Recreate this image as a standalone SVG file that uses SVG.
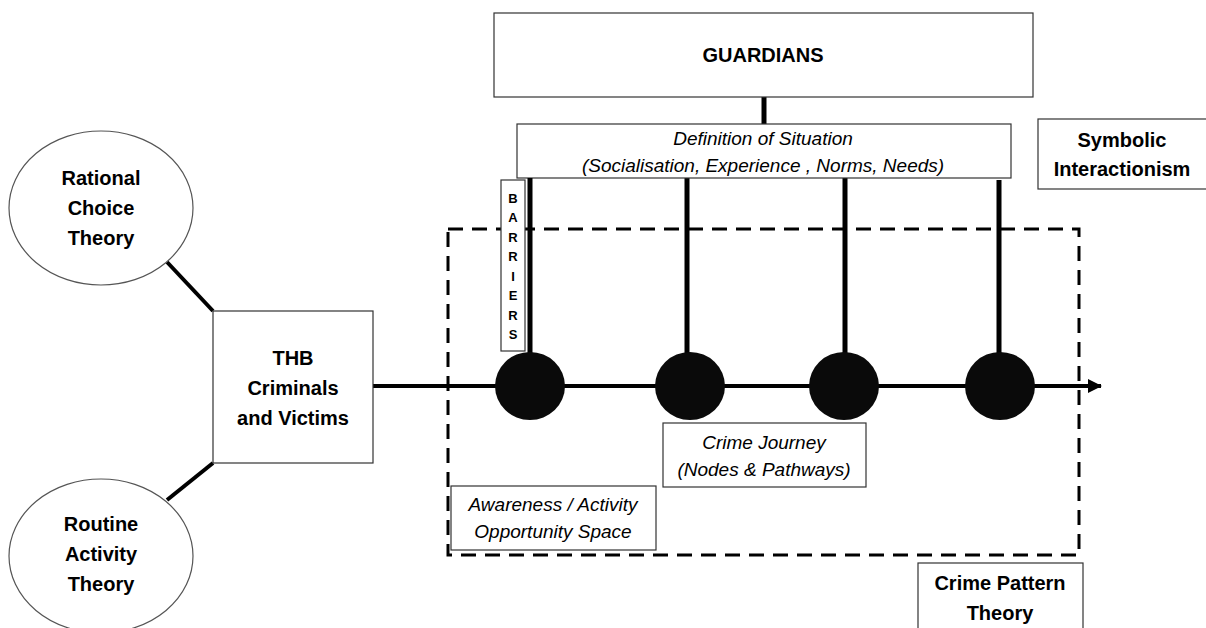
<svg xmlns="http://www.w3.org/2000/svg" width="1206" height="628" viewBox="0 0 1206 628">
<style>
.box{fill:#fff;stroke:#333;stroke-width:1.2}
.ell{fill:#fff;stroke:#555;stroke-width:1.2}
.b{font-family:"Liberation Sans",Arial,sans-serif;font-weight:bold;font-size:20px;fill:#000;text-anchor:middle}
.i{font-family:"Liberation Sans",Arial,sans-serif;font-style:italic;font-size:19px;fill:#000;text-anchor:middle}
.bar{font-family:"Liberation Sans",Arial,sans-serif;font-weight:bold;font-size:13px;fill:#000;text-anchor:middle}
.conn{stroke:#000;stroke-width:4;fill:none}
.vert{stroke:#000;stroke-width:5;fill:none}
.dot{fill:#0a0a0a}
</style>
<defs>
<marker id="arr" markerWidth="14" markerHeight="16" refX="13" refY="8" orient="auto" markerUnits="userSpaceOnUse">
<path d="M0,1 L14,8 L0,15 Z" fill="#000"/>
</marker>
</defs>
<rect width="1206" height="628" fill="#fff"/>
<g id="opportunity-space">
<rect x="448" y="229" width="631" height="326" fill="none" stroke="#000" stroke-width="3" stroke-dasharray="15,9"/>
</g>
<g id="connectors">
<line class="conn" x1="167" y1="262" x2="213" y2="311"/>
<line class="conn" x1="213" y1="463" x2="167" y2="500"/>
<line class="conn" x1="373" y1="386" x2="1101" y2="386" marker-end="url(#arr)"/>
<line class="vert" x1="764" y1="97" x2="764" y2="124"/>
<line class="vert" x1="687" y1="178" x2="687" y2="386"/>
<line class="vert" x1="845" y1="178" x2="845" y2="386"/>
<line class="vert" x1="999" y1="180" x2="999" y2="386"/>
</g>
<g id="rational-choice">
<ellipse class="ell" cx="101" cy="208" rx="92" ry="77"/>
<text class="b" x="101" y="185">Rational</text>
<text class="b" x="101" y="215">Choice</text>
<text class="b" x="101" y="245">Theory</text>
</g>
<g id="routine-activity">
<ellipse class="ell" cx="101" cy="556" rx="92" ry="77"/>
<text class="b" x="101" y="531">Routine</text>
<text class="b" x="101" y="561">Activity</text>
<text class="b" x="101" y="591">Theory</text>
</g>
<g id="thb">
<rect class="box" x="213" y="311" width="160" height="152"/>
<text class="b" x="293" y="365">THB</text>
<text class="b" x="293" y="395">Criminals</text>
<text class="b" x="293" y="425">and Victims</text>
</g>
<g id="guardians">
<rect class="box" x="494" y="13" width="539" height="84"/>
<text class="b" x="763" y="62">GUARDIANS</text>
</g>
<g id="definition">
<rect class="box" x="517" y="124" width="494" height="54"/>
<text class="i" x="763" y="145">Definition of Situation</text>
<text class="i" x="763" y="172">(Socialisation, Experience , Norms, Needs)</text>
</g>
<g id="symbolic">
<rect class="box" x="1038" y="119" width="170" height="70"/>
<text class="b" x="1122" y="147">Symbolic</text>
<text class="b" x="1122" y="176">Interactionism</text>
</g>
<g id="barriers">
<rect class="box" x="501" y="180" width="24" height="171"/>
<text class="bar" x="513" y="203">B</text>
<text class="bar" x="513" y="222">A</text>
<text class="bar" x="513" y="242">R</text>
<text class="bar" x="513" y="261">R</text>
<text class="bar" x="513" y="281">I</text>
<text class="bar" x="513" y="300">E</text>
<text class="bar" x="513" y="320">R</text>
<text class="bar" x="513" y="339">S</text>
</g>
<g id="barrier-line">
<line class="vert" x1="530" y1="178" x2="530" y2="386"/>
</g>
<g id="nodes">
<ellipse class="dot" cx="530" cy="386" rx="35" ry="34"/>
<ellipse class="dot" cx="690" cy="386" rx="35" ry="34"/>
<ellipse class="dot" cx="844" cy="386" rx="35" ry="34"/>
<ellipse class="dot" cx="1000" cy="386" rx="35" ry="34"/>
</g>
<g id="crime-journey">
<rect class="box" x="663" y="423" width="203" height="64"/>
<text class="i" x="764" y="449">Crime Journey</text>
<text class="i" x="764" y="476">(Nodes &amp; Pathways)</text>
</g>
<g id="awareness">
<rect class="box" x="451" y="486" width="205" height="64"/>
<text class="i" x="553" y="511">Awareness / Activity</text>
<text class="i" x="553" y="538">Opportunity Space</text>
</g>
<g id="crime-pattern">
<rect class="box" x="918" y="563" width="165" height="70"/>
<text class="b" x="1000" y="590">Crime Pattern</text>
<text class="b" x="1000" y="620">Theory</text>
</g>
</svg>
